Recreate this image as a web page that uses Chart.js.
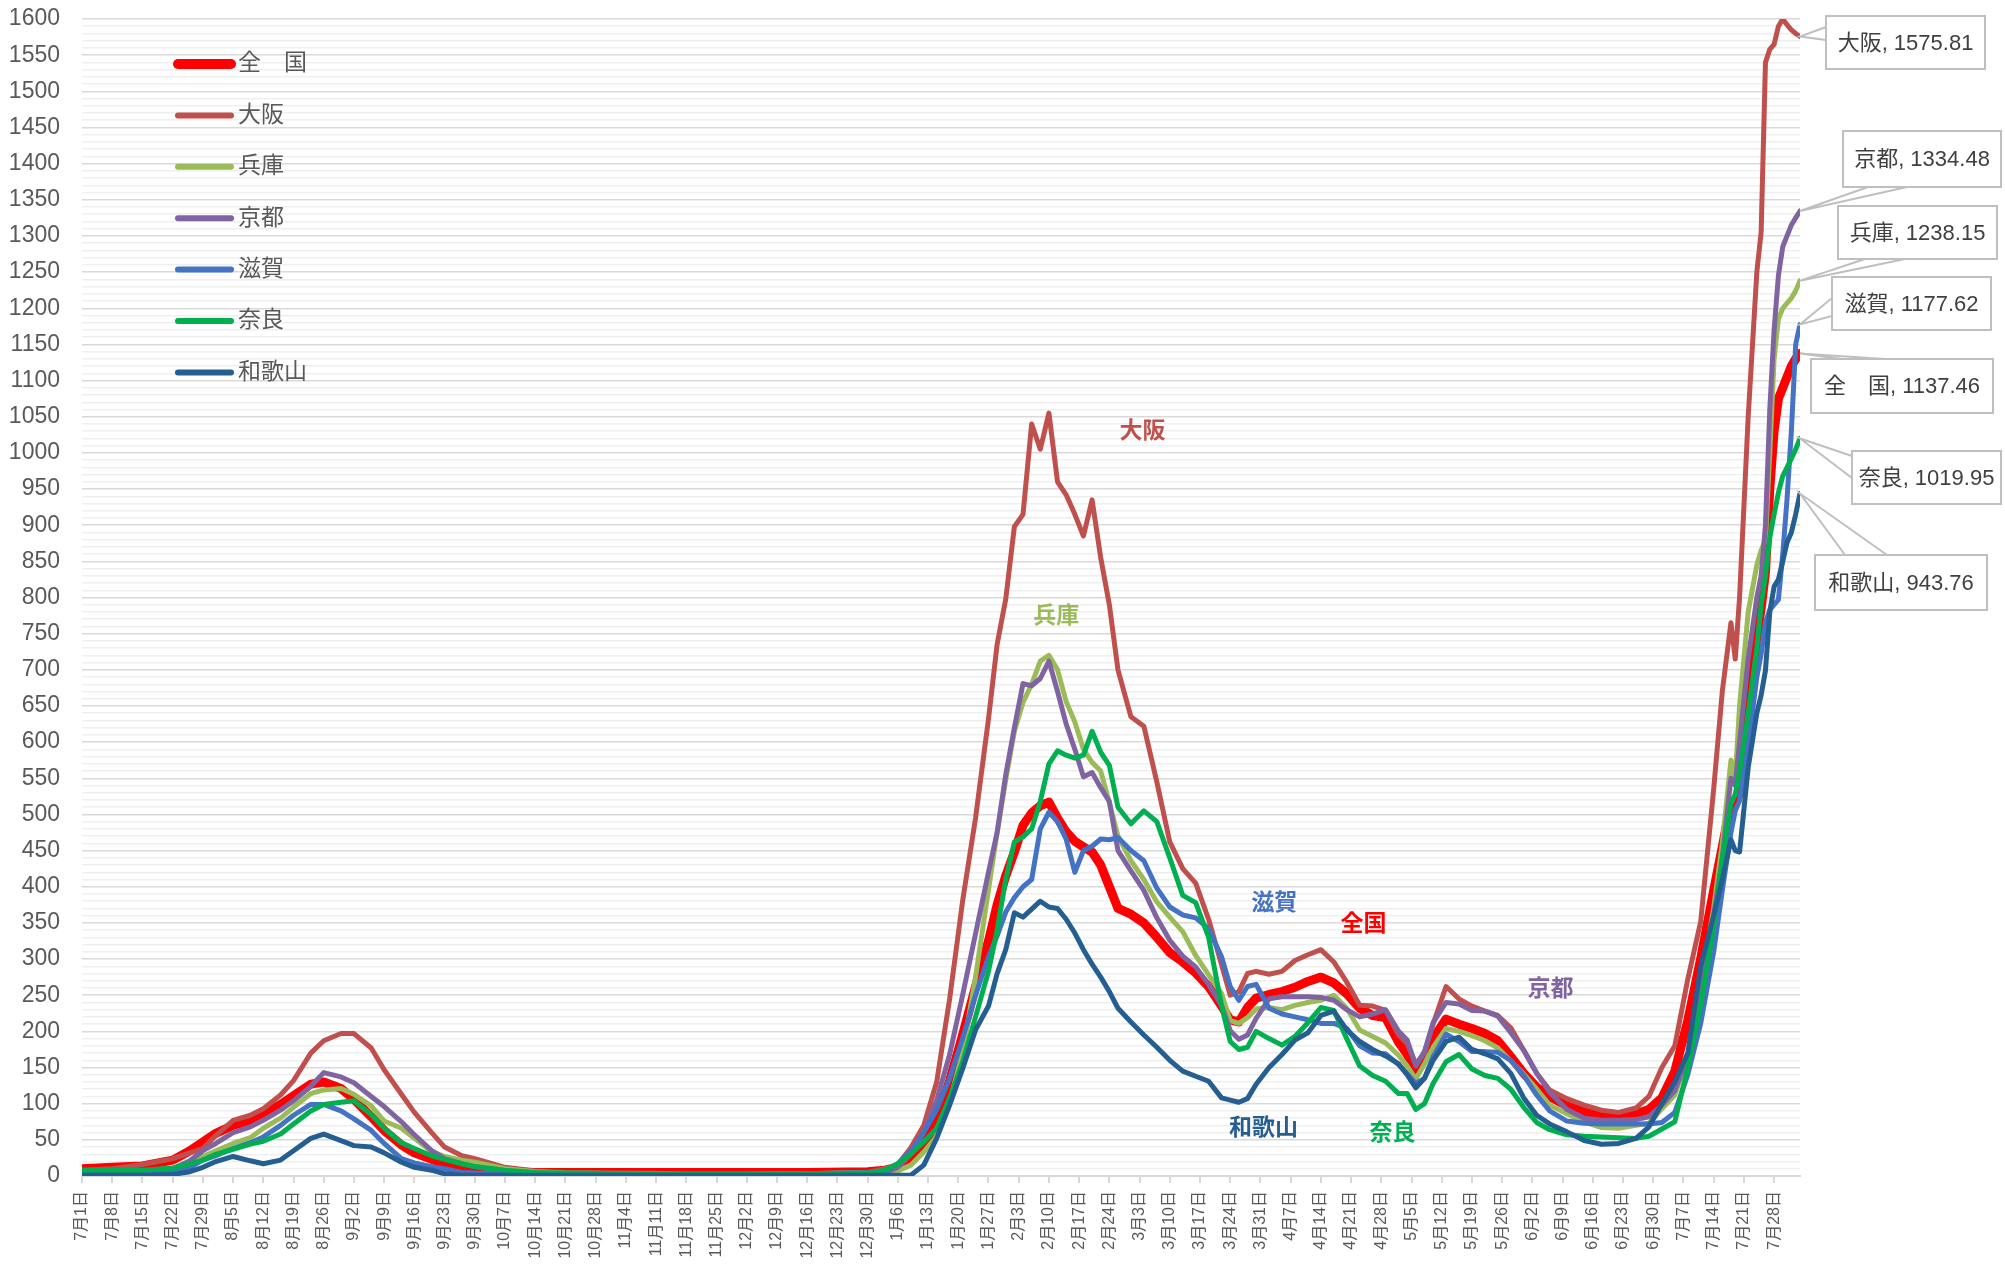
<!DOCTYPE html>
<html>
<head>
<meta charset="utf-8">
<script src="https://cdn.jsdelivr.net/npm/chart.js@4.4.1/dist/chart.umd.min.js"></script>
<style>
  html, body { margin: 0; background: #fff; }
  canvas { display: block; }
</style>
</head>
<body>
<canvas id="chart" width="2005" height="1265"></canvas>
<script>
// tick labels, one every 7 days starting 7月1日
const tickLabels = ['7月1日','7月8日','7月15日','7月22日','7月29日','8月5日','8月12日','8月19日','8月26日',
  '9月2日','9月9日','9月16日','9月23日','9月30日','10月7日','10月14日','10月21日','10月28日',
  '11月4日','11月11日','11月18日','11月25日','12月2日','12月9日','12月16日','12月23日','12月30日',
  '1月6日','1月13日','1月20日','1月27日','2月3日','2月10日','2月17日','2月24日',
  '3月3日','3月10日','3月17日','3月24日','3月31日','4月7日','4月14日','4月21日','4月28日',
  '5月5日','5月12日','5月19日','5月26日','6月2日','6月9日','6月16日','6月23日','6月30日',
  '7月7日','7月14日','7月21日','7月28日'];

// day number since 7月1日 for every sample below
const days = [
  0, 7, 14, 21, 25, 28, 31, 35, 39, 42, 46, 49, 53, 56, 60, 63, 67, 70, 74, 77, 81, 84, 88, 91, 98, 105, 112, 126, 140, 154, 168, 182,
  186, 189, 192, 195, 198, 201, 204, 207,
  210, 212, 214, 216, 218, 220, 222, 224, 226, 228, 230, 232, 234, 236, 238, 240,
  243, 246, 249, 252, 255, 258, 261, 264,
  266, 268, 270, 272,
  275, 278, 281, 284, 287, 290, 293, 296, 299, 302, 305,
  307, 309, 311, 313,
  316, 319, 322, 325, 328, 331, 334, 337, 340,
  344, 348, 352, 356, 360,
  363, 366, 369, 372, 375, 378,
  380, 382, 383, 384, 386, 388, 389, 390, 391, 392, 393, 394, 395, 396, 397, 398
];

const zenkoku = [
  10, 12, 14, 22, 35, 47, 59, 70, 76, 86, 99, 111, 127, 130, 121, 106, 82, 63, 43, 32, 23, 16, 10, 8, 6, 5, 5, 5, 5, 5, 5, 6,
  8, 12, 25, 42, 76, 132, 195, 262,
  325, 375, 415, 448, 485, 502, 512, 517, 495, 476, 463, 455, 448, 430, 400, 370,
  362, 350, 330, 309, 296, 281, 262, 235,
  216, 213, 233, 246,
  251, 255, 261, 269, 275, 267, 252, 232, 222, 219, 185,
  168, 146, 165, 190,
  217, 210, 204, 197, 187, 165, 142, 123, 110,
  97, 89, 85, 84, 86,
  92, 108, 145, 215, 301, 395,
  455, 517, 515, 530, 645, 745, 785, 835, 950, 1030, 1075, 1090, 1105, 1120, 1130, 1137.46
];

const osaka = [
  8, 10, 16, 24, 32, 38, 56, 77, 84, 93, 112, 132, 170, 187, 197, 197, 177, 147, 113, 88, 60, 40, 28, 24, 12, 7, 5, 4, 3, 3, 3, 5,
  10, 16, 39, 70, 130, 245, 380, 495,
  632, 735, 798, 898, 915, 1040, 1005, 1055, 960, 942, 915, 885, 935, 855, 790, 700,
  635, 622, 545, 462, 425, 405, 355, 292,
  250, 255, 280, 283,
  279, 283, 298, 306, 313, 296, 268, 236, 235, 229, 195,
  183, 155, 170, 210,
  262, 245, 235, 228, 222, 205, 174, 142, 119,
  107, 98, 91, 88, 94,
  110, 150, 180, 272, 352, 535,
  670, 765, 715, 800, 1050, 1250, 1305, 1540, 1558, 1565, 1590, 1600, 1592, 1585, 1580, 1575.81
];

const hyogo = [
  5, 5, 6, 8, 14, 27, 35, 45, 53, 66, 80, 95, 114, 119, 121, 113, 97, 76, 66, 52, 34, 27, 22, 19, 10, 6, 4, 3, 2, 2, 3, 5,
  4, 7, 15, 33, 55, 103, 170, 275,
  396, 475, 548, 615, 655, 680, 712, 720, 700, 656, 628, 590, 572, 560, 516, 470,
  436, 410, 379, 358, 338, 305, 278, 252,
  215, 211, 219, 231,
  233, 230, 236, 240, 243, 250, 232, 202, 193, 184, 167,
  152, 134, 155, 178,
  204, 200, 194, 187, 177, 159, 141, 120, 98,
  86, 75, 67, 66, 70,
  73, 93, 112, 165, 264, 370,
  460, 575, 550, 650, 780, 845, 865, 880, 1000, 1130, 1185, 1200, 1207, 1214, 1224, 1238.15
];

const kyoto = [
  6, 6, 6, 10, 21, 35, 45, 60, 68, 77, 91, 104, 124, 143, 137, 129, 110, 96, 75, 57, 35, 24, 17, 13, 6, 4, 3, 2, 2, 2, 3, 5,
  5, 12, 30, 61, 105, 168, 250, 335,
  420, 475, 555, 620, 681, 678, 688, 712, 670, 625, 590, 552, 558, 537, 518, 450,
  422, 395, 357, 326, 304, 289, 265, 236,
  201, 189, 195, 218,
  245, 248, 248, 248, 247, 243, 230, 220, 224, 230, 200,
  188, 152, 172, 212,
  240, 238, 229, 228, 221, 198, 174, 142, 116,
  92, 80, 77, 77, 78,
  82, 98, 118, 165, 259, 360,
  440, 550, 540, 600, 715, 800, 830, 900, 1060, 1170, 1245, 1285, 1300, 1315, 1325, 1334.48
];

const shiga = [
  3, 3, 3, 5, 12, 22, 28, 38, 46, 54, 70, 84, 99, 99, 90, 79, 63, 45, 24, 18, 13, 10, 5, 4, 3, 2, 2, 2, 1, 1, 2, 4,
  6, 17, 34, 60, 92, 135, 190, 250,
  303, 332, 365, 385, 400, 410, 480, 503, 490, 466, 420, 450, 456, 466, 465, 468,
  450, 436, 398, 372, 361, 357, 342, 303,
  262, 243, 262, 265,
  232, 224, 220, 216, 211, 211, 204, 180, 170, 169, 154,
  141, 128, 135, 165,
  196, 186, 172, 172, 171, 160, 139, 112, 90,
  76, 73, 72, 72, 72,
  72, 74, 88, 140, 211, 310,
  395, 475, 505, 519, 595, 690, 722, 765, 783, 790, 797, 860, 936, 1030, 1150, 1177.62
];

const nara = [
  8, 8, 8, 11, 17, 22, 30, 37, 44, 48, 58, 72, 90, 99, 102, 104, 85, 66, 46, 38, 28, 23, 17, 13, 8, 5, 4, 3, 2, 2, 3, 4,
  8, 17, 30, 47, 66, 108, 157, 220,
  283, 340, 410, 462, 469, 480, 518, 570, 588, 582, 578, 582, 615, 586, 568, 510,
  487, 505, 490, 440, 388, 378, 330, 235,
  186, 175, 178, 200,
  190, 181, 193, 212, 233, 229, 190, 152, 139, 131, 114,
  114, 92, 100, 128,
  158, 168, 148, 139, 135, 120, 95, 74, 64,
  57, 55, 54, 53, 52,
  55, 65, 75, 150, 237, 345,
  440, 515, 528, 560, 640, 730, 790, 830, 883, 915, 945, 968, 980, 992, 1005, 1019.95
];

const wakayama = [
  1, 1, 1, 2, 6, 12, 20, 27, 21, 17, 22, 35, 52, 58, 49, 42, 40, 32, 19, 12, 8, 3, 1, 1, 1, 1, 1, 1, 1, 1, 1, 1,
  1, 1, 1, 15, 52, 98, 148, 202,
  235, 280, 313, 364, 358, 369, 380, 372, 370, 355, 336, 313, 293, 275, 255, 232,
  213, 195, 178, 160, 145, 138, 131, 108,
  105, 102, 107, 127,
  150, 168, 188, 198, 222, 228, 202, 186, 175, 166, 155,
  140, 122, 135, 160,
  186, 192, 175, 169, 162, 142, 108, 84, 72,
  61, 49, 44, 45, 52,
  68, 100, 130, 170, 290, 360,
  410, 465, 450, 448, 565, 640, 665, 699, 780, 815, 825, 850, 876, 890, 915, 943.76
];

const seriesNames = ['全　国', '大阪', '兵庫', '京都', '滋賀', '奈良', '和歌山'];
const seriesValues = [zenkoku, osaka, hyogo, kyoto, shiga, nara, wakayama];
const seriesColors = ['#FF0000', '#C0504D', '#9BBB59', '#8064A2', '#4472C4', '#00B050', '#255E91'];

// names written inside the plot, placed in data units
const tagNames = ['大阪', '兵庫', '滋賀', '全国', '京都', '和歌山', '奈良'];
const tagDays = [245.7, 225.7, 276.2, 296.9, 340.2, 273.7, 303.6];
const tagValues = [1030, 773, 377, 347, 258, 65, 58];
const tagColors = ['#C0504D', '#9BBB59', '#4472C4', '#FF0000', '#8064A2', '#255E91', '#00B050'];

const FONT = "'Liberation Sans', 'Noto Sans CJK JP', sans-serif";

// callout boxes at the right (pixel layout), same order as series
const callouts = [
  { left: 1811, top: 359, w: 182, h: 54, a: [1842, 359], b: [1885, 359] },
  { left: 1826, top: 16,  w: 159, h: 53, a: [1826, 27],  b: [1826, 40] },
  { left: 1838, top: 206, w: 159, h: 53, a: [1865, 259], b: [1905, 259] },
  { left: 1843, top: 131, w: 158, h: 56, a: [1868, 187], b: [1907, 187] },
  { left: 1832, top: 277, w: 159, h: 53, a: [1832, 298], b: [1832, 316] },
  { left: 1852, top: 451, w: 149, h: 53, a: [1852, 456], b: [1852, 478] },
  { left: 1815, top: 555, w: 172, h: 55, a: [1845, 555], b: [1887, 555] }
];

const overlay = {
  id: 'overlay',
  afterDatasetsDraw(chart) {
    const { ctx, scales: { x, y } } = chart;
    ctx.save();

    // names inside the plot
    ctx.font = 'bold 23px ' + FONT;
    ctx.textAlign = 'center';
    ctx.textBaseline = 'middle';
    tagNames.forEach((t, i) => {
      ctx.fillStyle = tagColors[i];
      ctx.fillText(t, x.getPixelForValue(tagDays[i]), y.getPixelForValue(tagValues[i]));
    });

    // legend, top left inside the plot
    ctx.font = '23px ' + FONT;
    ctx.textAlign = 'left';
    ctx.lineCap = 'round';
    seriesNames.forEach((n, i) => {
      const yy = 64 + i * 51.4;
      ctx.strokeStyle = seriesColors[i];
      ctx.lineWidth = i === 0 ? 10 : 6;
      ctx.beginPath();
      ctx.moveTo(178, yy);
      ctx.lineTo(231, yy);
      ctx.stroke();
      ctx.fillStyle = '#595959';
      ctx.fillText(n, 238, yy);
    });

    // callouts with the last value of each series
    ctx.font = '22px ' + FONT;
    ctx.textAlign = 'center';
    seriesValues.forEach((vals, i) => {
      const c = callouts[i];
      const last = vals.length - 1;
      const px = x.getPixelForValue(days[last]);
      const py = y.getPixelForValue(vals[last]);
      ctx.strokeStyle = '#BFBFBF';
      ctx.lineWidth = 2;
      ctx.beginPath();
      ctx.moveTo(c.a[0], c.a[1]);
      ctx.lineTo(px, py);
      ctx.lineTo(c.b[0], c.b[1]);
      ctx.stroke();
      ctx.fillStyle = '#fff';
      ctx.fillRect(c.left, c.top, c.w, c.h);
      ctx.strokeRect(c.left, c.top, c.w, c.h);
      ctx.fillStyle = '#404040';
      ctx.fillText(seriesNames[i] + ', ' + vals[last].toFixed(2), c.left + c.w / 2, c.top + c.h / 2 + 1);
    });

    ctx.restore();
  }
};

const datasets = seriesValues.map((vals, i) => ({
  label: seriesNames[i],
  data: days.map((d, k) => ({ x: d, y: vals[k] })),
  borderColor: seriesColors[i],
  borderWidth: i === 0 ? 9 : 5,
  order: seriesValues.length - i,
  fill: false
}));

new Chart(document.getElementById('chart'), {
  type: 'line',
  data: { datasets },
  options: {
    responsive: false,
    animation: false,
    devicePixelRatio: 1,
    layout: { padding: { top: 19, right: 205, left: 0, bottom: 0 } },
    plugins: { legend: { display: false }, tooltip: { enabled: false } },
    elements: {
      point: { radius: 0 },
      line: { tension: 0, borderJoinStyle: 'round', borderCapStyle: 'round' }
    },
    scales: {
      x: {
        type: 'linear',
        min: 0,
        max: 398,
        afterFit: s => { s.height = 89; s.paddingLeft = 0; s.paddingRight = 0; },
        grid: { drawOnChartArea: false, color: '#D9D9D9', lineWidth: 2, tickLength: 7 },
        border: { color: '#D9D9D9', width: 2 },
        ticks: {
          stepSize: 7,
          autoSkip: false,
          includeBounds: false,
          maxRotation: 90,
          minRotation: 90,
          padding: 8,
          color: '#595959',
          font: { size: 16, family: FONT },
          callback: v => tickLabels[Math.round(v / 7)]
        }
      },
      y: {
        min: 0,
        max: 1600,
        afterFit: s => { s.width = 82; s.paddingTop = 0; s.paddingBottom = 0; },
        grid: {
          color: c => (c.tick && c.tick.value % 50 === 0) ? '#D9D9D9' : '#EFEFEF',
          lineWidth: 1.5,
          drawTicks: false
        },
        border: { display: false },
        ticks: {
          stepSize: 10,
          autoSkip: false,
          padding: 22,
          color: '#595959',
          font: { size: 23, family: FONT },
          callback: v => v % 50 === 0 ? v : ''
        }
      }
    }
  },
  plugins: [overlay]
});
</script>
</body>
</html>
